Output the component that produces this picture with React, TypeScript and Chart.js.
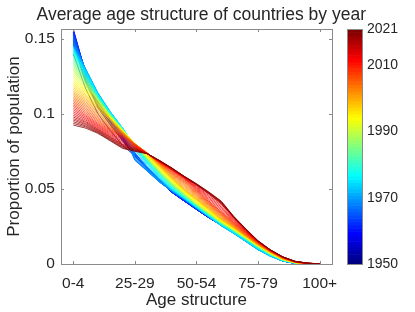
import React, { useEffect, useRef } from "react";
import { Chart, registerables } from "chart.js";

Chart.register(...registerables);

// Age groups (x categories)
const ageGroups = [
  "0-4", "5-9", "10-14", "15-19", "20-24", "25-29", "30-34", "35-39", "40-44", "45-49",
  "50-54", "55-59", "60-64", "65-69", "70-74", "75-79", "80-84", "85-89", "90-94", "95-99", "100+",
];
const xTickIdx = [0, 5, 10, 15, 20];
const yTicks = [0, 0.05, 0.1, 0.15];
const yMax = 0.1565;
const firstYear = 1950;
const cbTicks = [1950, 1970, 1990, 2010, 2021];

// Proportion of population per age group, one row per year 1950..2021
const shares: number[][] = [
  [.140,.117,.100,.089,.079,.072,.0645,.0565,.049,.043,.037,.0315,.026,.021,.0155,.0099,.0055,.0021,.0005,.0001,0],
  [.146,.121,.104,.0925,.082,.0718,.0643,.0562,.0485,.0426,.0368,.0312,.026,.021,.0155,.0099,.0055,.0021,.0005,.0001,0],
  [.147,.122,.105,.093,.0825,.0718,.0641,.056,.0482,.0424,.0366,.0311,.026,.021,.0155,.0099,.0055,.0021,.0005,.0001,0],
  [.148,.1225,.1055,.094,.083,.0719,.064,.0558,.0481,.0423,.0365,.031,.026,.021,.0155,.0099,.0055,.0021,.0005,.0001,0],
  [.149,.123,.106,.0945,.0835,.072,.0638,.0557,.048,.0422,.0365,.031,.026,.021,.0155,.0099,.0055,.0021,.0005,.0001,0],
  [.150,.124,.107,.095,.084,.072,.0635,.0556,.0478,.042,.0364,.0309,.026,.021,.0155,.0099,.0055,.0021,.0005,.0001,0],
  [.1515,.1245,.1075,.0955,.0845,.0724,.0637,.0557,.0478,.042,.0364,.0309,.026,.021,.0155,.0099,.0055,.0021,.0005,.0001,0],
  [.153,.125,.108,.096,.085,.0728,.0639,.0558,.0478,.042,.0364,.0309,.026,.021,.0155,.0099,.0055,.0021,.0005,.0001,0],
  [.1545,.126,.109,.096,.085,.0732,.0641,.0559,.0478,.042,.0364,.0309,.026,.021,.0155,.0099,.0055,.0021,.0005,.0001,0],
  [.156,.1265,.1095,.0965,.0855,.0736,.0643,.056,.0478,.042,.0364,.0309,.026,.021,.0155,.0099,.0055,.0021,.0005,.0001,0],
  [.1565,.127,.110,.097,.086,.074,.0645,.0561,.0478,.042,.0364,.0309,.026,.021,.0155,.0099,.0055,.0021,.0005,.0001,0],
  [.156,.1274,.1104,.0974,.0862,.0735,.0641,.0559,.0479,.0421,.0365,.031,.026,.021,.0155,.0099,.0055,.0021,.0005,.0001,0],
  [.155,.1278,.1108,.0978,.0864,.073,.0637,.0557,.048,.0422,.0366,.0311,.026,.021,.0155,.0099,.0055,.0021,.0005,.0001,0],
  [.154,.1282,.1112,.0982,.0866,.0723,.0632,.0554,.0481,.0424,.0367,.0312,.026,.021,.0155,.0099,.0055,.0021,.0005,.0001,0],
  [.153,.1286,.1116,.0986,.0868,.0716,.0627,.0551,.0482,.0426,.0368,.0313,.026,.021,.0155,.0099,.0055,.0021,.0005,.0001,0],
  [.152,.129,.112,.099,.087,.0705,.0622,.0548,.0483,.0428,.0369,.0314,.026,.021,.0155,.0099,.0055,.0021,.0005,.0001,0],
  [.1508,.1292,.1124,.0995,.0877,.0697,.062,.0546,.0484,.043,.037,.0314,.0259,.0209,.0154,.0098,.0054,.0021,.0005,.0001,0],
  [.1496,.1294,.1128,.100,.0884,.069,.0619,.0545,.0485,.0431,.0371,.0314,.0258,.0208,.0153,.0097,.0053,.0021,.0005,.0001,0],
  [.1484,.1296,.1132,.1005,.0891,.0692,.062,.0546,.0486,.0432,.0372,.0314,.0257,.0207,.0152,.0096,.0053,.002,.0005,.0001,0],
  [.1472,.1298,.1136,.101,.0898,.070,.0623,.0548,.0487,.0433,.0373,.0314,.0256,.0206,.0151,.0095,.0052,.002,.0005,.0001,0],
  [.146,.130,.114,.1015,.0905,.0715,.0628,.0552,.0488,.0434,.0374,.0314,.0255,.0205,.015,.0095,.0052,.002,.0005,.0001,0],
  [.1454,.1296,.1138,.1014,.0905,.073,.0635,.0557,.049,.0435,.0375,.0315,.0255,.0205,.015,.0095,.0052,.002,.0005,.0001,0],
  [.1448,.1292,.1136,.1013,.0905,.0745,.0643,.0563,.0493,.0436,.0376,.0316,.0256,.0206,.0151,.0096,.0053,.0021,.0005,.0001,0],
  [.1442,.1288,.1134,.1012,.0905,.076,.0652,.0569,.0495,.0437,.0377,.0317,.0257,.0207,.0152,.0097,.0054,.0021,.0005,.0001,0],
  [.1436,.1284,.1132,.1011,.0905,.0772,.0661,.0575,.0498,.0439,.0379,.0318,.0259,.0209,.0154,.0099,.0055,.0022,.0006,.0001,0],
  [.143,.128,.113,.101,.0905,.078,.067,.058,.050,.044,.038,.032,.026,.021,.0156,.0101,.0057,.0023,.0006,.0001,0],
  [.1424,.1274,.1126,.1007,.0904,.078,.0674,.0584,.0503,.0442,.0382,.0322,.0266,.0214,.0161,.0104,.0059,.0024,.0006,.0001,0],
  [.1418,.1268,.1122,.1004,.0903,.078,.0678,.0588,.0506,.0444,.0384,.0324,.0267,.0216,.0162,.0106,.006,.0025,.0006,.0001,0],
  [.1412,.1262,.1118,.1001,.0902,.078,.0682,.0592,.0509,.0446,.0386,.0326,.0268,.0217,.0163,.0107,.006,.0025,.0007,.0001,0],
  [.1406,.1256,.1114,.0998,.0901,.078,.0686,.0596,.0512,.0448,.0388,.0328,.0269,.0219,.0164,.0109,.0061,.0026,.0007,.0001,0],
  [.140,.125,.111,.0995,.090,.078,.069,.060,.0515,.045,.039,.033,.027,.022,.0165,.011,.0062,.0026,.0007,.0001,0],
  [.1388,.1244,.1108,.0994,.0899,.0782,.0692,.0602,.0518,.0452,.0391,.0331,.0271,.0221,.0166,.0111,.0063,.0026,.0007,.0001,0],
  [.1376,.1238,.1106,.0993,.0898,.0784,.0694,.0604,.0521,.0454,.0392,.0332,.0272,.0222,.0167,.0112,.0064,.0027,.0007,.0001,0],
  [.1364,.1232,.1104,.0992,.0897,.0786,.0696,.0606,.0524,.0456,.0393,.0333,.0273,.0223,.0168,.0113,.0064,.0027,.0008,.0002,0],
  [.1352,.1226,.1102,.0991,.0896,.0788,.0698,.0608,.0527,.0458,.0394,.0334,.0274,.0224,.0169,.0114,.0065,.0028,.0008,.0002,0],
  [.134,.122,.110,.099,.0895,.079,.070,.061,.053,.046,.0395,.0335,.0275,.0225,.017,.0115,.0066,.0028,.0008,.0002,0],
  [.1328,.1214,.1098,.0989,.0894,.0792,.0702,.0612,.0532,.0462,.0396,.0336,.0276,.0226,.0171,.0116,.0067,.0028,.0008,.0002,0],
  [.1316,.1208,.1096,.0988,.0893,.0794,.0704,.0614,.0534,.0464,.0397,.0337,.0277,.0227,.0172,.0117,.0068,.0029,.0008,.0002,0],
  [.1304,.1202,.1094,.0987,.0892,.0796,.0706,.0616,.0536,.0466,.0398,.0338,.0278,.0228,.0173,.0118,.0068,.0029,.0009,.0002,0],
  [.1292,.1196,.1092,.0986,.0891,.0798,.0708,.0618,.0538,.0468,.0399,.0339,.0279,.0229,.0174,.0119,.0069,.003,.0009,.0002,0],
  [.128,.119,.109,.0985,.089,.080,.071,.062,.054,.047,.040,.034,.028,.023,.0175,.012,.007,.003,.0009,.0002,0],
  [.1266,.1182,.1084,.0983,.0889,.080,.0712,.0624,.0544,.0473,.0404,.0343,.0282,.0232,.0176,.0121,.0071,.003,.0009,.0002,0],
  [.1252,.1174,.1078,.0981,.0888,.080,.0714,.0628,.0548,.0476,.0408,.0346,.0284,.0233,.0177,.0122,.0072,.0031,.0009,.0002,0],
  [.1238,.1166,.1072,.0979,.0887,.080,.0716,.0632,.0552,.0479,.0412,.0349,.0286,.0235,.0178,.0122,.0072,.0031,.001,.0002,0],
  [.1224,.1158,.1066,.0977,.0886,.080,.0718,.0636,.0556,.0482,.0416,.0352,.0288,.0236,.0179,.0123,.0073,.0032,.001,.0002,0],
  [.121,.115,.106,.0975,.0885,.080,.072,.064,.056,.0485,.042,.0355,.029,.0238,.018,.0124,.0074,.0032,.001,.0002,0],
  [.1198,.114,.1054,.0971,.0884,.080,.0723,.0643,.0563,.0488,.0423,.0358,.0292,.0239,.0181,.0125,.0075,.0033,.001,.0002,0],
  [.1186,.113,.1048,.0967,.0883,.080,.0726,.0646,.0566,.0491,.0426,.0361,.0294,.0241,.0182,.0126,.0076,.0033,.001,.0002,0],
  [.1174,.112,.1042,.0963,.0882,.080,.0729,.0649,.0569,.0494,.0429,.0364,.0296,.0242,.0183,.0126,.0076,.0034,.0011,.0002,0],
  [.1162,.111,.1036,.0959,.0881,.080,.0732,.0652,.0572,.0497,.0432,.0367,.0298,.0244,.0184,.0127,.0077,.0034,.0011,.0002,0],
  [.115,.110,.103,.0955,.088,.080,.0735,.0655,.0575,.050,.0435,.037,.030,.0245,.0185,.0128,.0078,.0035,.0011,.0002,0],
  [.114,.109,.102,.0947,.0877,.080,.0736,.0658,.058,.0508,.0441,.0375,.0305,.0248,.0187,.0129,.0079,.0036,.0011,.0002,0],
  [.113,.108,.101,.0939,.0874,.080,.0737,.0661,.0585,.0516,.0447,.038,.031,.0251,.0189,.013,.008,.0037,.0012,.0003,0],
  [.112,.107,.100,.0931,.0871,.080,.0738,.0664,.059,.0524,.0453,.0385,.0315,.0254,.0191,.0132,.0081,.0038,.0012,.0003,.0001],
  [.111,.106,.099,.0923,.0868,.080,.0739,.0667,.0595,.0532,.0459,.039,.032,.0257,.0193,.0133,.0082,.0039,.0013,.0003,.0001],
  [.110,.105,.098,.0915,.0865,.080,.074,.067,.060,.054,.0465,.0395,.0325,.026,.0195,.0135,.0083,.004,.0013,.0003,.0001],
  [.109,.1039,.0971,.0909,.0861,.0798,.0739,.0672,.0605,.0546,.0471,.040,.033,.0264,.0198,.0137,.0084,.0041,.0013,.0003,.0001],
  [.108,.1028,.0962,.0903,.0857,.0796,.0738,.0674,.061,.0552,.0477,.0405,.0335,.0268,.0201,.0139,.0085,.0042,.0014,.0003,.0001],
  [.107,.1017,.0953,.0897,.0853,.0794,.0737,.0676,.0615,.0558,.0483,.041,.034,.0272,.0204,.0141,.0086,.0042,.0014,.0004,.0001],
  [.106,.1006,.0944,.0891,.0849,.0792,.0736,.0678,.062,.0564,.0489,.0415,.0345,.0276,.0207,.0143,.0087,.0043,.0015,.0004,.0001],
  [.105,.0995,.0935,.0885,.0845,.079,.0735,.068,.0625,.057,.0495,.042,.035,.028,.021,.0145,.0088,.0044,.0015,.0004,.0001],
  [.1038,.0986,.0928,.0878,.0836,.0786,.0735,.0681,.0627,.0572,.0501,.0429,.036,.0286,.0213,.0146,.0089,.0044,.0015,.0004,.0001],
  [.1026,.0977,.0921,.0871,.0827,.0782,.0735,.0682,.0629,.0574,.0507,.0438,.037,.0292,.0216,.0147,.009,.0045,.0016,.0004,.0001],
  [.1014,.0968,.0914,.0864,.0818,.0778,.0735,.0683,.0631,.0576,.0513,.0447,.038,.0298,.0219,.0148,.009,.0045,.0016,.0005,.0001],
  [.1002,.0959,.0907,.0857,.0809,.0774,.0735,.0684,.0633,.0578,.0519,.0456,.039,.0304,.0222,.0149,.0091,.0046,.0017,.0005,.0001],
  [.099,.095,.090,.085,.080,.077,.0735,.0685,.0635,.058,.0525,.0465,.040,.031,.0225,.015,.0092,.0046,.0017,.0005,.0001],
  [.0979,.0943,.0895,.0845,.0795,.0767,.0735,.0686,.0636,.0581,.0527,.0468,.0403,.0312,.0227,.0151,.0092,.0046,.0017,.0005,.0001],
  [.0968,.0935,.089,.084,.079,.0763,.0735,.0687,.0637,.0582,.0528,.047,.0407,.0313,.0228,.0152,.0093,.0047,.0017,.0005,.0001],
  [.0958,.0928,.0885,.0835,.0785,.076,.0735,.0687,.0637,.0582,.053,.0473,.041,.0315,.023,.0152,.0093,.0047,.0017,.0005,.0001],
  [.0947,.092,.088,.083,.078,.0757,.0735,.0688,.0638,.0583,.0532,.0475,.0413,.0317,.0232,.0153,.0094,.0047,.0018,.0006,.0001],
  [.0936,.0913,.0875,.0825,.0775,.0753,.0735,.0689,.0639,.0584,.0533,.0478,.0417,.0318,.0233,.0154,.0094,.0048,.0018,.0006,.0001],
  [.0925,.0905,.087,.082,.077,.075,.0735,.069,.064,.0585,.0535,.048,.042,.032,.0235,.0155,.0095,.0048,.0018,.0006,.0001],
];

const years = shares.map((_, i) => firstYear + i);
const lastYear = years[years.length - 1];

const FONT = "'Liberation Sans', Arial, Helvetica, sans-serif";
const TEXT = "#262626";
const BOX = "#8a8a8a";

function clamp01(v: number) {
  return Math.max(0, Math.min(1, v));
}
function jet(t: number) {
  const r = clamp01(1.5 - Math.abs(4 * t - 3));
  const g = clamp01(1.5 - Math.abs(4 * t - 2));
  const b = clamp01(1.5 - Math.abs(4 * t - 1));
  return `rgb(${Math.round(r * 255)},${Math.round(g * 255)},${Math.round(b * 255)})`;
}
const colors = years.map((_, i) => jet(i / (years.length - 1)));

const framePlugin = {
  id: "frame",
  afterDraw(chart: any) {
    const { ctx, chartArea: a, scales } = chart;
    const xs = scales.x;
    const ys = scales.y;
    const cb = scales.cb;
    ctx.save();
    // colorbar
    const cx0 = Math.round(a.right) + 15;
    const cw = 15;
    const n = colors.length;
    for (let k = 0; k < n; k++) {
      const v0 = firstYear + (k * (lastYear - firstYear)) / n;
      const v1 = firstYear + ((k + 1) * (lastYear - firstYear)) / n;
      const p0 = cb.getPixelForValue(v0);
      const p1 = cb.getPixelForValue(v1);
      ctx.fillStyle = colors[k];
      ctx.fillRect(cx0, p1, cw, p0 - p1 + 0.6);
    }
    ctx.strokeStyle = BOX;
    ctx.lineWidth = 1;
    const top = Math.round(a.top);
    const bottom = Math.round(a.bottom);
    ctx.strokeRect(cx0 + 0.5, top + 0.5, cw, bottom - top);
    // axes box
    const left = Math.round(a.left);
    const right = Math.round(a.right);
    ctx.strokeRect(left + 0.5, top + 0.5, right - left, bottom - top);
    // inward ticks
    ctx.beginPath();
    for (const v of xTickIdx) {
      const px = Math.round(xs.getPixelForValue(v)) + 0.5;
      ctx.moveTo(px, bottom);
      ctx.lineTo(px, bottom - 3);
      ctx.moveTo(px, top);
      ctx.lineTo(px, top + 3);
    }
    for (const v of yTicks) {
      const py = Math.round(ys.getPixelForValue(v)) + 0.5;
      ctx.moveTo(left, py);
      ctx.lineTo(left + 3, py);
      ctx.moveTo(right, py);
      ctx.lineTo(right - 3, py);
    }
    ctx.stroke();
    ctx.restore();
  },
};

export default function App() {
  const ref = useRef<HTMLCanvasElement | null>(null);
  useEffect(() => {
    document.body.style.margin = "0";
    const canvas = ref.current;
    if (!canvas) return;
    const datasets = shares.map((row, i) => ({
      label: String(years[i]),
      data: row.map((v, j) => ({ x: j, y: v })),
      borderColor: colors[i],
      backgroundColor: colors[i],
      borderWidth: 0.75,
      pointRadius: 0,
      fill: false,
      tension: 0,
      order: shares.length - 1 - i,
    }));
    const chart = new Chart(canvas, {
      type: "line",
      data: { datasets },
      options: {
        responsive: false,
        animation: false,
        devicePixelRatio: 1,
        layout: { padding: { left: 0.4, right: 12.9, top: 0, bottom: 0 } },
        plugins: {
          legend: { display: false },
          tooltip: { enabled: false },
          title: {
            display: true,
            text: "Average age structure of countries by year",
            color: TEXT,
            font: { family: FONT, size: 17.5, weight: "normal" },
            padding: { top: 5, bottom: 3 },
          },
        },
        scales: {
          x: {
            type: "linear",
            min: -1,
            max: 21,
            afterBuildTicks: (s: any) => {
              s.ticks = xTickIdx.map((v) => ({ value: v }));
            },
            grid: { display: false, drawTicks: false },
            border: { display: false },
            ticks: {
              callback: (v: any) => ageGroups[v as number],
              padding: 10,
              maxRotation: 0,
              autoSkip: false,
              color: TEXT,
              font: { family: FONT, size: 15.5 },
            },
            title: {
              display: true,
              text: "Age structure",
              color: TEXT,
              font: { family: FONT, size: 17 },
              padding: { top: -12, bottom: 1 },
            },
          },
          y: {
            type: "linear",
            min: 0,
            max: yMax,
            afterBuildTicks: (s: any) => {
              s.ticks = yTicks.map((v) => ({ value: v }));
            },
            grid: { display: false, drawTicks: false },
            border: { display: false },
            ticks: {
              callback: (v: any) => String(v),
              padding: 6,
              color: TEXT,
              font: { family: FONT, size: 15.5 },
            },
            title: {
              display: true,
              text: "Proportion of population",
              color: TEXT,
              font: { family: FONT, size: 17 },
              padding: { top: 4, bottom: -6 },
            },
          },
          cb: {
            type: "linear",
            position: "right",
            min: firstYear,
            max: lastYear,
            afterBuildTicks: (s: any) => {
              s.ticks = cbTicks.map((v) => ({ value: v }));
            },
            grid: {
              display: true,
              drawOnChartArea: false,
              drawTicks: true,
              tickLength: 31,
              color: "rgba(0,0,0,0)",
            },
            border: { display: false },
            ticks: {
              callback: (v: any) => String(v),
              padding: 4,
              color: TEXT,
              font: { family: FONT, size: 14 },
            },
          },
        },
      } as any,
      plugins: [framePlugin],
    });
    return () => chart.destroy();
  }, []);
  return (
    <div style={{ width: 415, height: 312 }}>
      <canvas ref={ref} width={415} height={312} style={{ display: "block" }} />
    </div>
  );
}
